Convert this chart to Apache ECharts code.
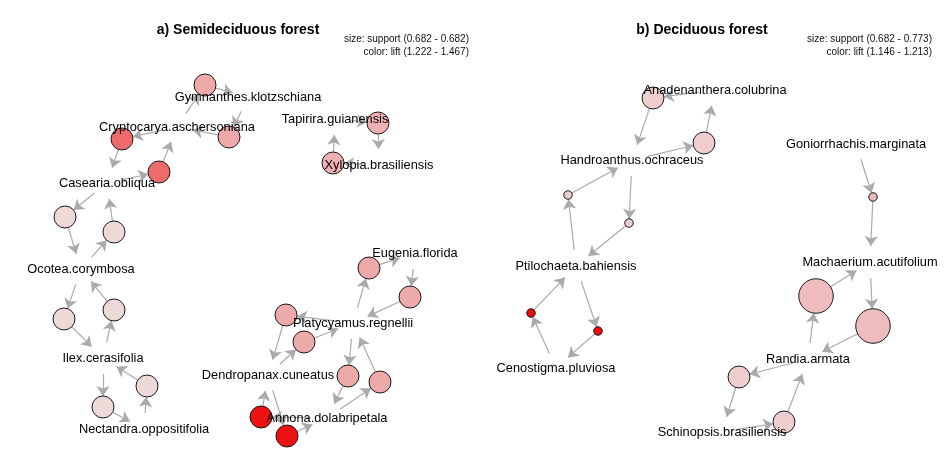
<!DOCTYPE html>
<html lang="en">
  <head>
    <meta charset="UTF-8" />
    <meta name="viewport" content="width=device-width, initial-scale=1.0" />
    <title>Association rules graphs</title>
    <script src="https://cdn.jsdelivr.net/npm/echarts@6/dist/echarts.min.js"></script>
  </head>
  <body style="margin: 0">
    <div id="main" style="width: 952px; height: 463px"></div>
    <script type="text/javascript">
      // a) Semideciduous forest - items and their layout position
      const itemsA = [
        "Gymnanthes.klotzschiana", "Cryptocarya.aschersoniana", "Casearia.obliqua",
        "Ocotea.corymbosa", "Ilex.cerasifolia", "Nectandra.oppositifolia",
        "Tapirira.guianensis", "Xylopia.brasiliensis", "Eugenia.florida",
        "Platycyamus.regnellii", "Dendropanax.cuneatus", "Annona.dolabripetala",
      ];
      const itemXA = [248, 177, 107, 81, 103, 144, 335, 379, 415, 353, 268, 327];
      const itemYA = [97, 127, 183, 269, 358, 429, 119, 165, 253, 323, 375, 418];

      // a) rules: lhs -> rhs, support, lift, layout position
      const lhsA = [
        "Cryptocarya.aschersoniana", "Gymnanthes.klotzschiana",
        "Cryptocarya.aschersoniana", "Casearia.obliqua",
        "Casearia.obliqua", "Ocotea.corymbosa",
        "Ocotea.corymbosa", "Ilex.cerasifolia",
        "Ilex.cerasifolia", "Nectandra.oppositifolia",
        "Tapirira.guianensis", "Xylopia.brasiliensis",
        "Platycyamus.regnellii", "Eugenia.florida",
        "Platycyamus.regnellii", "Dendropanax.cuneatus",
        "Platycyamus.regnellii", "Annona.dolabripetala",
        "Annona.dolabripetala", "Dendropanax.cuneatus",
      ];
      const rhsA = [
        "Gymnanthes.klotzschiana", "Cryptocarya.aschersoniana",
        "Casearia.obliqua", "Cryptocarya.aschersoniana",
        "Ocotea.corymbosa", "Casearia.obliqua",
        "Ilex.cerasifolia", "Ocotea.corymbosa",
        "Nectandra.oppositifolia", "Ilex.cerasifolia",
        "Xylopia.brasiliensis", "Tapirira.guianensis",
        "Eugenia.florida", "Platycyamus.regnellii",
        "Dendropanax.cuneatus", "Platycyamus.regnellii",
        "Annona.dolabripetala", "Platycyamus.regnellii",
        "Dendropanax.cuneatus", "Annona.dolabripetala",
      ];
      const supportA = [
        0.682, 0.682, 0.682, 0.682, 0.682, 0.682, 0.682, 0.682, 0.682, 0.682,
        0.682, 0.682, 0.682, 0.682, 0.682, 0.682, 0.682, 0.682, 0.682, 0.682,
      ];
      const liftA = [
        1.293, 1.293, 1.357, 1.357, 1.244, 1.244, 1.244, 1.244, 1.244, 1.244,
        1.286, 1.286, 1.293, 1.293, 1.293, 1.293, 1.293, 1.293, 1.45, 1.45,
      ];
      const ruleXA = [205, 229, 122, 159, 65, 114, 64, 114, 103, 147, 378, 333, 369, 410, 286, 304, 348, 380, 261, 287];
      const ruleYA = [85, 137, 139, 172, 217, 232, 319, 310, 407, 386, 123, 163, 268, 297, 315, 342, 376, 382, 417, 436];
      const supportRangeA = [0.682, 0.682];
      const liftRangeA = [1.222, 1.467];

      // b) Deciduous forest - items and their layout position
      const itemsB = [
        "Anadenanthera.colubrina", "Handroanthus.ochraceus", "Ptilochaeta.bahiensis",
        "Cenostigma.pluviosa", "Goniorrhachis.marginata", "Machaerium.acutifolium",
        "Randia.armata", "Schinopsis.brasiliensis",
      ];
      const itemXB = [239, 156, 100, 80, 380, 394, 332, 246];
      const itemYB = [90, 160, 266, 368, 144, 262, 359, 432];

      const lhsB = [
        "Anadenanthera.colubrina", "Handroanthus.ochraceus",
        "Ptilochaeta.bahiensis", "Handroanthus.ochraceus",
        "Cenostigma.pluviosa", "Ptilochaeta.bahiensis",
        "Goniorrhachis.marginata",
        "Randia.armata", "Machaerium.acutifolium",
        "Randia.armata", "Schinopsis.brasiliensis",
      ];
      const rhsB = [
        "Handroanthus.ochraceus", "Anadenanthera.colubrina",
        "Handroanthus.ochraceus", "Ptilochaeta.bahiensis",
        "Ptilochaeta.bahiensis", "Cenostigma.pluviosa",
        "Machaerium.acutifolium",
        "Machaerium.acutifolium", "Randia.armata",
        "Schinopsis.brasiliensis", "Randia.armata",
      ];
      const supportB = [0.729, 0.729, 0.682, 0.682, 0.682, 0.682, 0.682, 0.773, 0.773, 0.729, 0.729];
      const liftB = [1.155, 1.155, 1.155, 1.155, 1.21, 1.21, 1.161, 1.16, 1.16, 1.155, 1.155];
      const ruleXB = [177, 228, 92, 153, 55, 122, 397, 340, 397, 263, 308];
      const ruleYB = [98, 143, 195, 223, 313, 331, 197, 296, 326, 377, 422];
      const supportRangeB = [0.682, 0.773];
      const liftRangeB = [1.146, 1.213];

      const fontFamily = "Liberation Sans, Arial, sans-serif";

      // grey (low lift) to red (high lift)
      function colorFor(v, range) {
        const t = range[1] > range[0] ? (v - range[0]) / (range[1] - range[0]) : 0;
        const g = Math.round(238 * (1 - Math.min(1, Math.max(0, t))));
        return "rgb(238," + g + "," + g + ")";
      }
      function sizeFor(v, range) {
        if (range[1] <= range[0]) return 22;
        return 8.5 + 26 * (v - range[0]) / (range[1] - range[0]);
      }

      function buildGraph(items, ix, iy, lhs, rhs, sup, lift, rx, ry, supRange, liftRange, idx) {
        const nodes = [];
        const links = [];
        lhs.forEach((l, i) => {
          const id = "rule" + (i + 1);
          nodes.push({
            name: id,
            value: [rx[i], ry[i]],
            symbolSize: sizeFor(sup[i], supRange),
            itemStyle: { color: colorFor(lift[i], liftRange) },
            label: { show: false },
          });
          links.push({ source: l, target: id });
          links.push({ source: id, target: rhs[i] });
        });
        items.forEach((it, i) => {
          nodes.push({
            name: it,
            value: [ix[i], iy[i]],
            symbolSize: 32,
            itemStyle: { color: "rgba(0,0,0,0)", borderWidth: 0 },
            label: { show: true },
          });
        });
        return {
          type: "graph",
          coordinateSystem: "cartesian2d",
          xAxisIndex: idx,
          yAxisIndex: idx,
          silent: true,
          symbol: "circle",
          data: nodes,
          links: links,
          itemStyle: { borderColor: "#1a1a1a", borderWidth: 1 },
          label: {
            position: "inside",
            formatter: "{b}",
            color: "#000",
            fontSize: 12.8,
            fontFamily: fontFamily,
          },
          lineStyle: { color: "#aaaaaa", width: 1.2, opacity: 1, curveness: 0 },
          edgeSymbol: ["circle", "arrow"],
          edgeSymbolSize: [0, 10],
        };
      }

      function rangeText(name, r) {
        return name + " (" + r[0].toFixed(3) + " - " + r[1].toFixed(3) + ")";
      }

      const titleStyle = { fontSize: 14, fontWeight: "bold", color: "#000", fontFamily: fontFamily };
      const noteStyle = { fontSize: 10, fontWeight: "normal", color: "#111", fontFamily: fontFamily };

      let options = {
        backgroundColor: "#fff",
        animation: false,
        title: [
          { text: "a) Semideciduous forest", left: 238, top: 23, textAlign: "center", padding: 0, textStyle: titleStyle },
          { text: "b) Deciduous forest", left: 702, top: 23, textAlign: "center", padding: 0, textStyle: titleStyle },
          { text: rangeText("size: support", supportRangeA), left: 469, top: 34, textAlign: "right", padding: 0, textStyle: noteStyle },
          { text: rangeText("color: lift", liftRangeA), left: 469, top: 47, textAlign: "right", padding: 0, textStyle: noteStyle },
          { text: rangeText("size: support", supportRangeB), left: 932, top: 34, textAlign: "right", padding: 0, textStyle: noteStyle },
          { text: rangeText("color: lift", liftRangeB), left: 932, top: 47, textAlign: "right", padding: 0, textStyle: noteStyle },
        ],
        grid: [
          { left: 0, top: 0, width: 476, height: 463 },
          { left: 476, top: 0, width: 476, height: 463 },
        ],
        xAxis: [
          { type: "value", gridIndex: 0, min: 0, max: 476, show: false },
          { type: "value", gridIndex: 1, min: 0, max: 476, show: false },
        ],
        yAxis: [
          { type: "value", gridIndex: 0, min: 0, max: 463, inverse: true, show: false },
          { type: "value", gridIndex: 1, min: 0, max: 463, inverse: true, show: false },
        ],
        series: [
          buildGraph(itemsA, itemXA, itemYA, lhsA, rhsA, supportA, liftA, ruleXA, ruleYA, supportRangeA, liftRangeA, 0),
          buildGraph(itemsB, itemXB, itemYB, lhsB, rhsB, supportB, liftB, ruleXB, ruleYB, supportRangeB, liftRangeB, 1),
        ],
      };

      let myChart = echarts.init(document.getElementById("main"));
      myChart.setOption(options);
    </script>
  </body>
</html>
